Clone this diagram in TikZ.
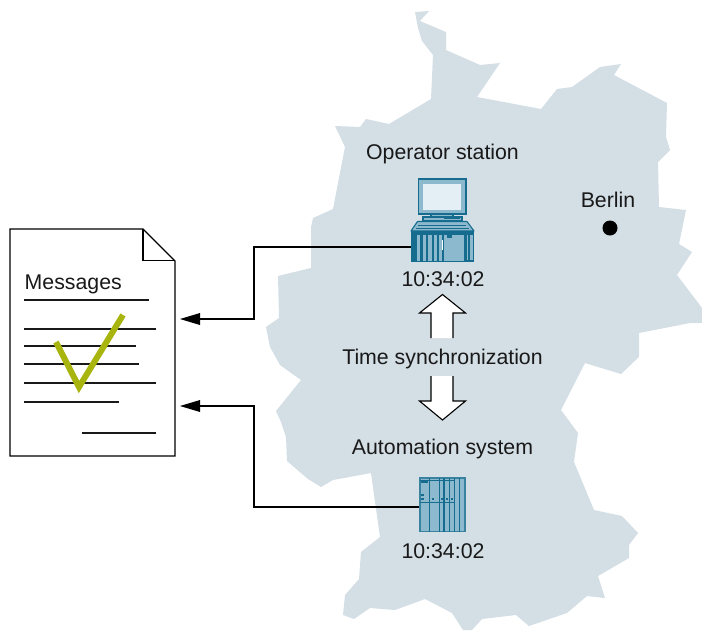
\documentclass[tikz,border=0pt]{standalone}
\usepackage{fontspec}
\setmainfont{Liberation Sans}
\definecolor{mapc}{HTML}{D3DEE5}
\definecolor{devdark}{HTML}{156C8E}
\definecolor{devmid}{HTML}{8DB9CF}
\definecolor{devlight}{HTML}{E4EFF5}
\definecolor{tick}{HTML}{A9B50F}
\tikzset{
  lbl/.style={inner sep=0pt,anchor=base,font=\fontsize{21.3}{24}\selectfont,text=black!90},
  docline/.style={draw=black!90,line width=1.4pt},
  wire/.style={draw=black,line width=1.5pt},
  tipshape/.style={fill=black,draw=none},
  hollow/.style={draw=black,line width=1.1pt,fill=white,line join=miter},
  devline/.style={draw=devdark,line width=1.1pt},
  devfill/.style={fill=devmid,draw=devdark,line width=1.1pt}
}
\begin{document}
\begin{tikzpicture}[x=1pt,y=-1pt]
\useasboundingbox (0,0) rectangle (702,630);
% map
\fill[mapc] (415,12)--(429,11)--(420,21)--(446,32)--(446,50)--(480,65)--(500,63)--(477,97)--(541,109)--(557,89)--(572,87)--(600,67)--(621,64)--(614,75)--(667,103)--(666,137)--(670,150)--(658,162)--(659,207)--(686,210)--(679,244)--(692,252)--(677,275)--(702,308)--(702,323)--(690,323)--(639,333)--(639,357)--(621,374)--(585,363)--(561,410)--(578,433)--(574,462)--(594,510)--(622,516)--(638,533)--(629,545)--(629,558)--(598,576)--(605,598)--(587,596)--(567,613)--(529,626)--(516,615)--(482,619)--(472,630)--(463,630)--(452,613)--(425,599)--(395,610)--(370,608)--(354,619)--(343,615)--(345,595)--(359,579)--(361,552)--(380,537)--(371,473)--(333,480)--(321,487)--(308,479)--(287,461)--(286,437)--(281,422)--(276,411)--(301,380)--(280,365)--(270,347)--(266,327)--(279,318)--(278,276)--(311,268)--(311,227)--(313,218)--(333,209)--(345,147)--(335,126)--(360,127)--(366,119)--(389,124)--(431,99)--(433,55)--(422,41)--(418,28)--cycle;
% document
\draw[draw=black,line width=1.4pt,fill=white,line join=miter] (10,229)--(143,229)--(175,261)--(175,456)--(10,456)--cycle;
\draw[draw=black,line width=1.4pt,line join=miter] (143,229)--(143,260.5)--(175,260.5);
\node[lbl,anchor=base west] (msg) at (24.5,289.2) {Messages};
\draw[docline] (24,300)--(149,300);
\draw[docline] (24,329)--(156,329);
\draw[docline] (24,346)--(136,346);
\draw[docline] (24,364)--(139,364);
\draw[docline] (24,383)--(156,383);
\draw[docline] (24,402)--(119,402);
\draw[docline] (82,433)--(156,433);
\draw[tick,line width=6pt,line join=miter,miter limit=10] (56,342)--(79,387)--(123,315);
% connector end points
\coordinate (osport) at (411,247);
\coordinate (asport) at (420,507);
\coordinate (docin1) at (180,319);
\coordinate (docin2) at (180,406);
\coordinate (bend1a) at (254,247);
\coordinate (bend1b) at (254,319);
\coordinate (bend2a) at (254,507);
\coordinate (bend2b) at (254,406);
\draw[wire] (osport)--(bend1a)--(bend1b)--(198,319);
\draw[wire] (asport)--(bend2a)--(bend2b)--(198,406);
\fill[tipshape] (docin1)--(200,313)--(200,325)--cycle;
\fill[tipshape] (docin2)--(200,400)--(200,412)--cycle;
% operator station
\draw[devfill] (418.5,179)rectangle(466,214);
\fill[devlight] (423,184)rectangle(461,209.5);
\draw[devfill] (431,214)rectangle(453,217);
\draw[devfill] (423,217)rectangle(462,221);
\draw[devfill,line join=round] (417.5,221.5)--(467,221.5)--(474,231)--(411,231)--cycle;
\draw[devdark,line width=.8pt] (418,225)--(466,225) (416,228)--(469,228) (444,218.5)--(460,218.5);
\fill[devdark] (411,231)rectangle(474,262);
\fill[devmid] (416.5,235)rectangle(420,261);
\fill[devmid] (422.5,235)rectangle(426,261);
\fill[devmid] (428,235)rectangle(431.5,261);
\fill[devmid] (433.5,235)rectangle(437,261);
\fill[devmid] (439,235)rectangle(442,261);
\fill[devmid] (444,235)rectangle(464,260.5);
\fill[devmid] (466.5,235)rectangle(468,260);
\fill[devmid] (470,235)rectangle(472.5,260);
\fill[devdark] (447,235)rectangle(452,237.5);
\fill[white] (441.8,240)rectangle(442.8,250);
% automation system
\draw[devfill,draw=devdark!70!devmid] (420,478)rectangle(465,531.5);
\foreach \vx in {429.5,439.5,444,449.5,454.5,459.5}{\draw[devline] (\vx,478)--(\vx,531.5);}
\draw[devline,line width=.7pt] (420,480)--(454.5,480);
\draw[devline,line width=.7pt] (420,502)--(454.5,502);
\fill[devdark] (421,481)rectangle(428,483);
\fill[devdark] (421,494)rectangle(424,496);
\fill[devdark] (421,498)rectangle(424,500);
\foreach \vx in {431.5,441,446,451}{\fill[devdark] (\vx,498)rectangle(\vx+2,500);}
% hollow arrows
\fill[white] (431,313)rectangle(453,338);
\draw[hollow] (431,338)--(431,313)--(419.5,313)--(442.5,294.5)--(465.5,313)--(453,313)--(453,338);
\fill[white] (431,376)rectangle(453,401);
\draw[hollow] (431,376)--(431,401)--(419.5,401)--(442.5,420)--(465.5,401)--(453,401)--(453,376);
% labels
\node[lbl] (oplabel) at (442.5,159.5) {Operator station};
\node[lbl] (t1) at (443,286.7) {10:34:02};
\node[lbl] (sync) at (442.5,364.2) {Time synchronization};
\node[lbl] (aslabel) at (442.5,454.7) {Automation system};
\node[lbl] (t2) at (443,558.7) {10:34:02};
\node[lbl] (berlin) at (608,207.5) {Berlin};
\fill[black] (610,228) circle (7.5);
\end{tikzpicture}
\end{document}
